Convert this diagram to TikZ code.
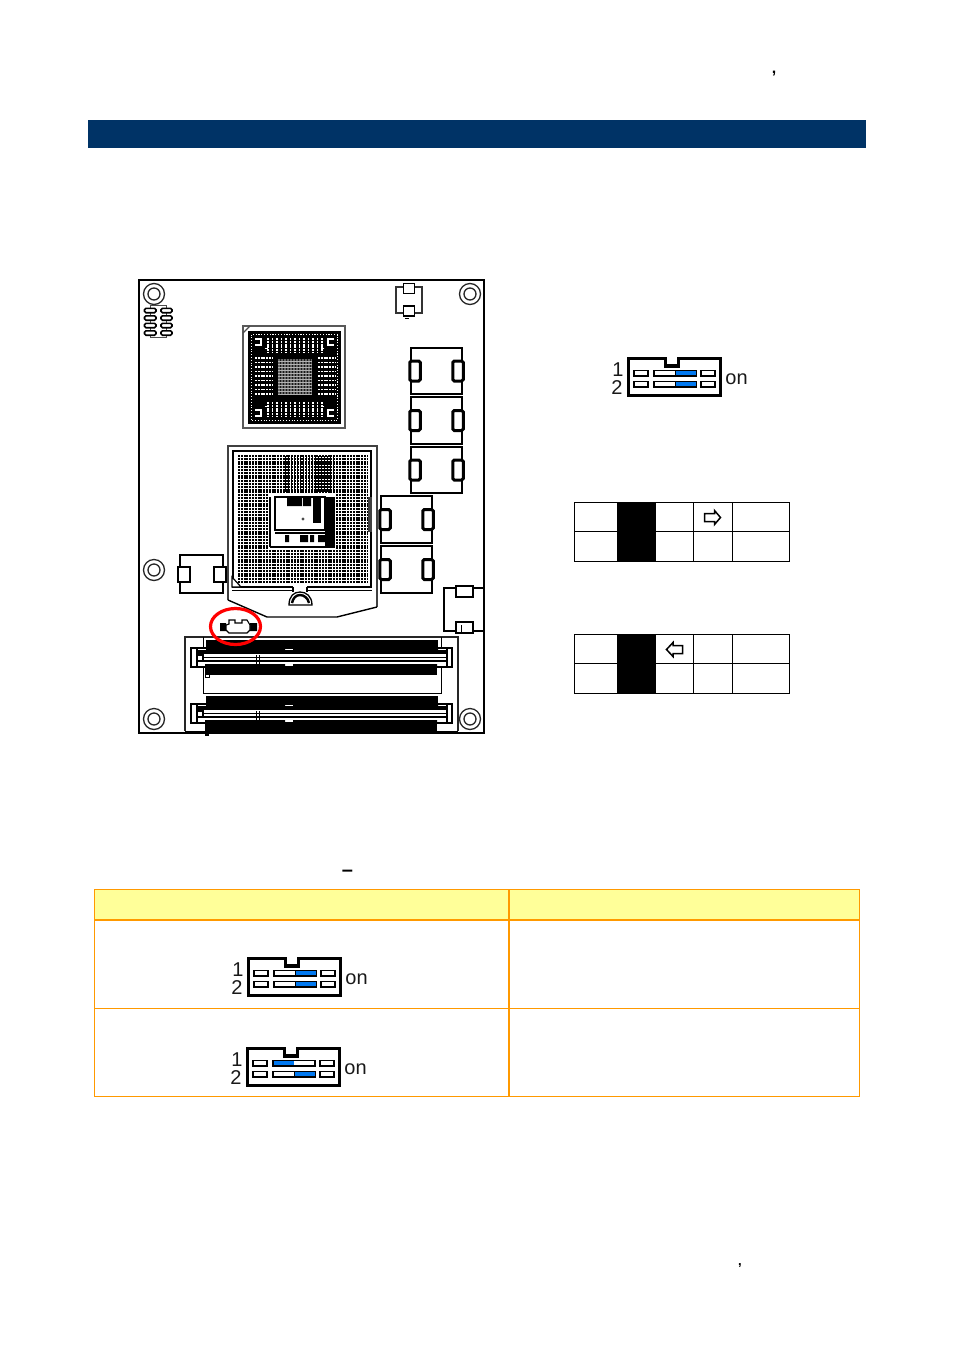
\documentclass[tikz,border=0pt]{standalone}
\usepackage{fontspec}
\setmainfont{Liberation Sans}
\usepackage{color}
\usetikzlibrary{positioning,calc,shapes.geometric}
\definecolor{barblue}{HTML}{003366}
\definecolor{tableline}{HTML}{FF9900}
\definecolor{headfill}{HTML}{FFFF99}
\definecolor{slotblue}{HTML}{0078F0}
\tikzset{
  hole/.style={circle,draw=black!85,line width=1.3pt,minimum size=21pt,inner sep=0pt},
  holein/.style={circle,draw=black!85,line width=1.3pt,minimum size=12pt,inner sep=0pt},
  coil/.style={rectangle,draw,line width=1.6pt,minimum width=51pt,minimum height=46.5pt,inner sep=0pt},
  coilpad/.style={rectangle,rounded corners=1.5pt,draw,fill=white,line width=3pt,minimum width=10.5pt,minimum height=20pt,inner sep=0pt},
  smallpad/.style={rectangle,draw,fill=white,line width=1.8pt,minimum width=12pt,minimum height=15pt,inner sep=0pt},
  grid/.style={draw,line width=1pt},
  outarrow/.style={draw,line width=1.5pt,fill=white,line join=miter},
  swlabel/.style={inner sep=0pt,font=\fontsize{20}{20}\selectfont,text=black!90}
}
% x, y, blue start in row 1, blue start in row 2, name
\newcommand{\dipswitch}[5]{
\begin{scope}[shift={(#1,#2)}]
\draw [line width=3.2pt,line join=miter] (1.5,1.5) -- (38.5,1.5) -- (38.5,9) -- (51.5,9) -- (51.5,1.5) -- (93.5,1.5) -- (93.5,38.5) -- (1.5,38.5) -- cycle;
\foreach \y in {13.4,24.6} {
  \draw [line width=1.7pt,fill=white] (7,\y) rectangle +(14,5.4);
  \draw [line width=1.7pt,fill=white] (27,\y) rectangle +(42,5.4);
  \draw [line width=1.7pt,fill=white] (74,\y) rectangle +(14,5.4);
}
\fill [slotblue] (#3,14.2) rectangle +(20.7,3.8);
\fill [slotblue] (#4,25.4) rectangle +(20.7,3.8);
\draw [line width=1pt] (#3,13.4) -- +(0,5.4) (#4,24.6) -- +(0,5.4);
\node [swlabel] (#5one) at (-9,13) {1};
\node [swlabel] (#5two) at (-10,31) {2};
\node [swlabel] (#5on) at (109.5,22) {on};
\end{scope}
}

\begin{document}
\begin{tikzpicture}[x=1pt,y=-1pt,line cap=butt]
\useasboundingbox (0,0) rectangle (954,1350);

% heading bar and stray marks
\fill [barblue] (88,120) rectangle (866,148);
\node [inner sep=0pt,font=\bfseries\fontsize{16}{16}\selectfont] (topcomma) at (774,74) {,};
\node [inner sep=0pt,font=\bfseries\fontsize{13}{13}\selectfont] (botcomma) at (740,1266) {,};
\node [inner sep=0pt,font=\bfseries\fontsize{20}{20}\selectfont] (dash) at (347.5,873.5) {--};

% board
\draw [line width=2pt] (139,280) rectangle (484,733);
\foreach \n/\x/\y in {a/154/294,b/470/294,c/154/570,d/154/719,e/470/719} {
  \node [hole] (hole\n) at (\x,\y) {};
  \node [holein] (in\n) at (hole\n) {};
}

% small chip top left
\draw [line width=.9pt,draw=black!70] (150,305) rectangle (166,337);
\foreach \y in {310.5,318,325.5,333} {
  \draw [line width=1.6pt,fill=white,rounded corners=1.5pt] (144.5,\y-2.2) rectangle (156,\y+2.2);
  \draw [line width=1.6pt,fill=white,rounded corners=1.5pt] (161,\y-2.2) rectangle (172,\y+2.2);
}

% top connector
\draw [line width=1.1pt,draw=black!80] (396,287) rectangle (422,313);
\node [smallpad,minimum width=11pt,minimum height=10pt] (toppad) at (409,288.5) {};
\node [smallpad,minimum width=11pt,minimum height=10pt] (botpad) at (409,311) {};
\draw [line width=.9pt] (405,318) -- (409,318);

% BGA chip
\draw [line width=1.4pt,draw=black!65] (243,326) rectangle (345,428);
\fill (248,331) rectangle (341,424);
\draw [line width=1.1pt,draw=black!70] (243,333) -- (250,326);
\draw [white,line width=1pt,dash pattern=on 1.1pt off 1.7pt] (251.5,334.5) rectangle (337.5,420.5);
\foreach \x in {268,272.5,...,322} {
  \draw [white,line width=1.1pt,dash pattern=on 2pt off .8pt] (\x,338) -- (\x,353);
  \draw [white,line width=1.1pt,dash pattern=on 2pt off .8pt] (\x,402) -- (\x,417);
}
\foreach \y in {358,362.5,...,397} {
  \draw [white,line width=1.1pt,dash pattern=on 2pt off .8pt] (255,\y) -- (272,\y);
  \draw [white,line width=1.1pt,dash pattern=on 2pt off .8pt] (318,\y) -- (335,\y);
}
\fill [black!60] (278,359) rectangle (312,395);
\foreach \x in {280,283,...,311} {
  \draw [black!90,line width=.8pt] (\x,359) -- (\x,395);
}
\foreach \y in {361,364,...,394} {
  \draw [white!70!black,line width=.6pt] (278,\y) -- (312,\y);
}
\foreach \x/\y/\a/\b in {255/339/6/6,334/339/-6/6,255/416/6/-6,334/416/-6/-6} {
  \draw [white,line width=1.1pt] (\x,\y) -- ++(\a,0) -- ++(0,\b) -- ++(-\a,0);
  \draw [white,line width=1.1pt] (\x+\a*1.6,\y+\b*1.6) -- ++(\a*.6,0);
}

% coils on the right
\foreach \n/\x/\y in {a/436.5/371,b/436.5/420.5,c/436.5/470,d/406.5/519.5,e/406.5/569.5} {
  \node [coil] (coil\n) at (\x,\y) {};
  \node [coilpad] (padl\n) at (\x-21.5,\y) {};
  \node [coilpad] (padr\n) at (\x+21.5,\y) {};
}

% left coil
\draw [line width=1.2pt] (180,555) rectangle (223,593);
\node [smallpad,minimum width=11.5pt,minimum height=15.5pt] (leftl) at (184,574.5) {};
\node [smallpad,minimum width=11.5pt,minimum height=15.5pt] (leftr) at (220,574.5) {};

% right connector
\draw [line width=1.2pt] (484,588) -- (444,588) -- (444,631) -- (484,631);
\node [smallpad,minimum width=17pt,minimum height=11.5pt] (rcont) at (464.5,591.5) {};
\node [smallpad,minimum width=17pt,minimum height=11.5pt] (rconb) at (464.5,627.5) {};
\draw [line width=.9pt] (461,625) -- (461,632);

% CPU socket
\draw [line width=1.1pt,draw=black!75] (377,607) -- (377,446) -- (228,446) -- (228,600);
\draw [line width=1.4pt] (228,600) -- (267,617) -- (337,617) -- (377,607);
\draw [line width=2.6pt] (371,451) -- (233,451) -- (233,587) -- (371,587) -- cycle;
\foreach \y in {456,458.8,...,583.5} {
  \draw [line width=1.9pt,dash pattern=on 1.9pt off .9pt] (238,\y) -- (367,\y);
}
\foreach \x in {285,288,...,335} {
  \draw [line width=.7pt] (\x,456) -- (\x,492);
}
\draw [line width=1.1pt] (232,590.5) -- (372,590.5);
\fill [black!75] (368,497) rectangle (372,532);
\fill [white] (269,493) rectangle (336,549);
\fill (325,497) rectangle (335,547);
\draw [line width=1.8pt] (270,547) -- (335,547);
\draw [line width=1.2pt,fill=white] (275,497) rectangle (325,530);
\draw [line width=1.2pt] (275,533) -- (325,533);
\draw [line width=1.2pt] (270,497) -- (270,547);
\fill (287,497) rectangle (302,506) (303,497) rectangle (311,506);
\fill (313,498) rectangle (321,523);
\fill (285,535) rectangle (289,542) (300,535) rectangle (308,542) (310,535) rectangle (314,542) (318,535) rectangle (330,542);
\fill [black!70] (303,519) circle (1.6pt);
\draw [line width=1.2pt,fill=white] (232,577) -- (241,587) -- (232,587) -- cycle;
% latch
\fill [white] (293,586) rectangle (307,592);
\draw [line width=1.1pt] (293,587) -- (293,592);
\draw [line width=1.1pt] (307,587) -- (307,592);
\draw [line width=1.3pt] (289,605) .. controls (289,596) and (294,592) .. (300,592) .. controls (306,592) and (312,596) .. (312,605) -- cycle;
\draw [line width=2.4pt] (292,603) .. controls (293,598) and (296,595) .. (300,595) .. controls (304,595) and (308,598) .. (309,603);

% memory sockets
\draw [line width=1.1pt,draw=black!85] (185,731) -- (185,637) -- (458,637) -- (458,731);
\draw [line width=.9pt] (203,637) -- (203,693) -- (441,693) -- (441,637);
\draw [line width=.9pt] (185,731) -- (458,731);
\foreach \y in {0,56} {
  \begin{scope}[yshift=-\y pt]
  \fill (206,640) rectangle (438,650);
  \fill (205,665) rectangle (437,675);
  \draw [line width=1.6pt,fill=white] (191,648) rectangle (452,667);
  \draw [line width=1.4pt] (197,648) -- (197,667) (447,648) -- (447,667);
  \fill (197,650) rectangle (447,654);
  \fill (197,660) rectangle (447,661.5);
  \draw [line width=.8pt] (197,657.2) -- (447,657.2);
  \draw [line width=1.4pt,fill=white] (197,655) rectangle (203,661);
  \draw [line width=1pt] (256,655) -- (256,667) (259,655) -- (259,667);
  \fill (206,647) rectangle (285,651) (293,647) rectangle (438,651);
  \fill (205,664) rectangle (285,667) (293,664) rectangle (437,667);
  \end{scope}
}
\fill (205,727) rectangle (437,734);
\fill (205,733) rectangle (209,736);
\draw [line width=.9pt] (205,671) rectangle (209,677);

% circled jumper
\fill (220,623) rectangle (226,631) (250,623) rectangle (257,631);
\draw [line width=1.1pt,fill=white] (226,625) -- (229,624) -- (229,620) -- (235,620) -- (235,623) -- (242,623) -- (242,620) -- (247,620) -- (250,625) -- (250,630) -- (247,633) -- (229,633) -- (226,630) -- cycle;
\node [ellipse,draw=red,line width=3.2pt,minimum width=50pt,minimum height=36pt,inner sep=0pt] (ring) at (235.5,626.5) {};

% first switch
\dipswitch{627}{357}{48}{48}{mainsw}

% small tables
\foreach \n/\y in {t/502,b/634} {
  \fill (617,\y) rectangle (656,\y+59);
  \draw [grid] (574.5,\y+.5) rectangle (789.5,\y+59.5);
  \draw [grid] (574.5,\y+29.5) -- (789.5,\y+29.5);
  \draw [grid] (693.5,\y) -- (693.5,\y+59);
  \draw [grid] (732.5,\y) -- (732.5,\y+59);
}
\draw [outarrow] (704.5,513.5) -- (714.5,513.5) -- (714.5,510.5) -- (720.5,517.5) -- (714.5,524.5) -- (714.5,521.5) -- (704.5,521.5) -- cycle;
\draw [outarrow] (682.5,645.5) -- (673,645.5) -- (673,642.5) -- (666.5,649.5) -- (673,656.5) -- (673,653.5) -- (682.5,653.5) -- cycle;

% jumper table
\fill [headfill] (94,889) rectangle (860,920);
\draw [tableline,line width=1pt] (94.5,889.5) rectangle (859.5,1096.5);
\draw [tableline,line width=1.7pt] (94,920) -- (860,920);
\draw [tableline,line width=1pt] (94,1008.5) -- (860,1008.5);
\draw [tableline,line width=1.7pt] (509,889) -- (509,1096);

\dipswitch{247}{957}{48}{48}{opensw}
\dipswitch{246}{1047}{27.5}{48}{closesw}
\end{tikzpicture}
\end{document}
